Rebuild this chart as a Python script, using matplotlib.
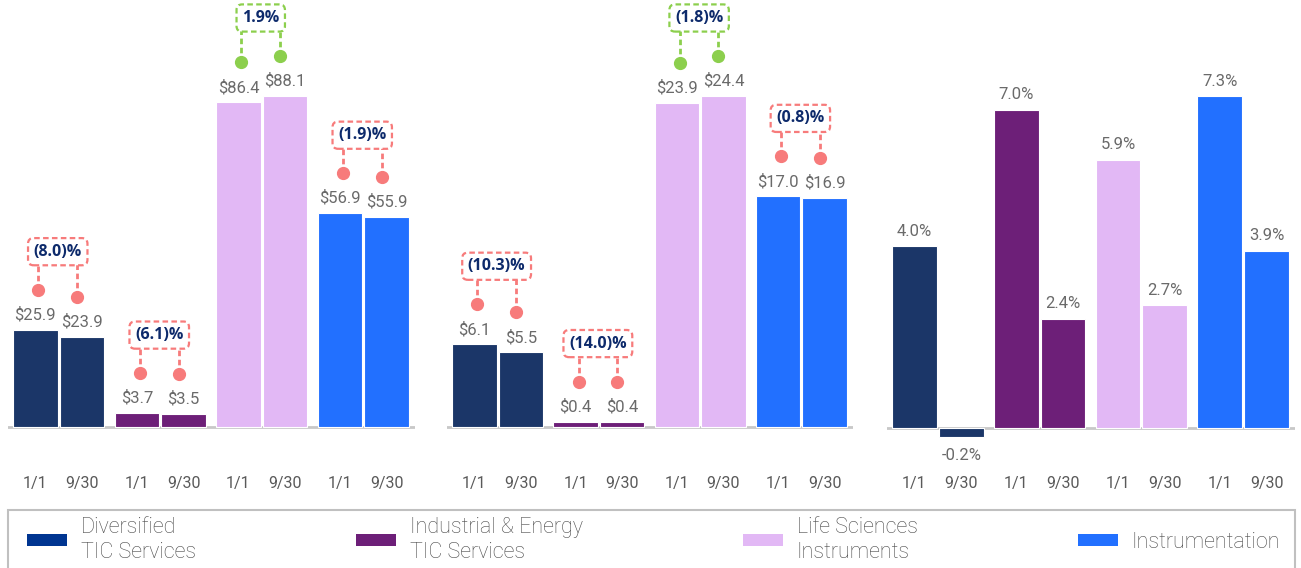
import numpy as np
import matplotlib.pyplot as plt
from matplotlib.patches import Patch, Rectangle

plt.rcParams['font.family'] = ['Roboto', 'DejaVu Sans']

# segment data
groups = ['Diversified\nTIC Services', 'Industrial & Energy\nTIC Services',
          'Life Sciences\nInstruments', 'Instrumentation']
periods = ['1/1', '9/30']
bar_colors = ['#1B3668', '#6D1F78', '#E2B8F5', '#2270FF']
legend_colors = ['#003591', '#6D1F78', '#E2B8F5', '#2270FF']

revenue_start = [25.9, 3.7, 86.4, 56.9]
revenue_end = [23.9, 3.5, 88.1, 55.9]
revenue_change = ['(8.0)%', '(6.1)%', '1.9%', '(1.9)%']
revenue_up = [False, False, True, False]

ebitda_start = [6.1, 0.4, 23.9, 17.0]
ebitda_end = [5.5, 0.4, 24.4, 16.9]
ebitda_change = ['(10.3)%', '(14.0)%', '(1.8)%', '(0.8)%']
ebitda_up = [False, False, True, False]

growth_start = [4.0, 7.0, 5.9, 7.3]
growth_end = [-0.2, 2.4, 2.7, 3.9]

W, H = 1301, 568
RED = '#F77B7B'
GREEN = '#8CCF4D'
NAVY = '#0D2A6B'
GRAY = '#6A6A6A'

fig = plt.figure(figsize=(W / 100, H / 100), dpi=100)


def panel(x0, x1, base, start, end, fmt, change=None, up=None):
    ax = fig.add_axes([x0 / W, 1 - 470 / H, (x1 - x0) / W, 470 / H])
    vmax = max(max(start), max(end))
    s = (base - 96) / vmax          # pixels per data unit
    ax.set_ylim(-(470 - base) / s, base / s)
    ax.set_xlim(-0.50, 3.51)
    px = 4.01 / (x1 - x0)           # data units per pixel along x
    x = np.arange(len(start))
    pos = []
    for off, vals in [(-0.23, start), (0.23, end)]:
        ax.bar(x + off, vals, 0.44, color=bar_colors, edgecolor='white',
               linewidth=0.8, zorder=2)
        for xi, v in zip(x + off, vals):
            if v >= 0:
                ax.text(xi, v + 15 / s, fmt(v), ha='center', va='center',
                        fontsize=12, color=GRAY)
            else:
                ax.text(xi, v - 18 / s, fmt(v), ha='center', va='center',
                        fontsize=12, color=GRAY)
        pos.extend(x + off)
    ax.axhline(0, color='#C8C8C8', lw=2, zorder=1)
    ax.set_xticks(sorted(pos), periods * len(start))
    ax.tick_params(axis='x', length=0, pad=4.5, labelsize=11.5, labelcolor='#5A5A5A')
    ax.set_yticks([])
    for sp in ax.spines.values():
        sp.set_visible(False)

    if change is None:
        return
    # callout: two dots above the pair, joined by dashed stems to a labelled box
    for i, (lab, u) in enumerate(zip(change, up)):
        c = GREEN if u else RED
        xa = i - 0.23 + 3 * px
        xb = i + 0.23 - 5 * px
        ya = start[i] + 40 / s
        yb = end[i] + 40 / s
        by = max(ya, yb) + 38 / s
        for xx, yy in [(xa, ya), (xb, yb)]:
            ax.plot([xx, xx], [yy, by], color=c, lw=2, ls=(0, (2, 1.3)), zorder=3)
        ax.plot([xa, xb], [ya, yb], 'o', ms=8.5, color=c, zorder=4)
        ax.text((xa + xb) / 2, by, lab, ha='center', va='center', fontsize=11.5,
                fontweight='bold', color=NAVY, family=['Open Sans', 'DejaVu Sans'],
                zorder=5,
                bbox=dict(boxstyle='round,pad=0.35,rounding_size=0.35', fc='white',
                          ec=c, ls=(0, (2.5, 1.5)), lw=1.6))


panel(8, 415, 427, revenue_start, revenue_end, lambda v: f'${v:.1f}',
      revenue_change, revenue_up)
panel(447, 853, 427, ebitda_start, ebitda_end, lambda v: f'${v:.1f}',
      ebitda_change, ebitda_up)
panel(887, 1295, 428, growth_start, growth_end, lambda v: f'{v:.1f}%')

# legend strip along the bottom
fig.add_artist(Rectangle((8 / W, -0.1), (1295 - 8) / W, 0.1 + (H - 510) / H,
                         transform=fig.transFigure, fill=False,
                         ec='#C0C0C0', lw=1.5))
handles = [Patch(fc=c, lw=0) for c in legend_colors]
fig.legend(handles, groups, ncol=4, loc='center left',
           bbox_to_anchor=(16 / W, 1 - 540 / H), frameon=False,
           handlelength=1.86, handleheight=0.47, handletextpad=0.65,
           columnspacing=7.43, borderpad=0, labelcolor='#4A4A4A',
           prop={'weight': 'light', 'size': 15.5})

fig.savefig('out.png', dpi=100)
